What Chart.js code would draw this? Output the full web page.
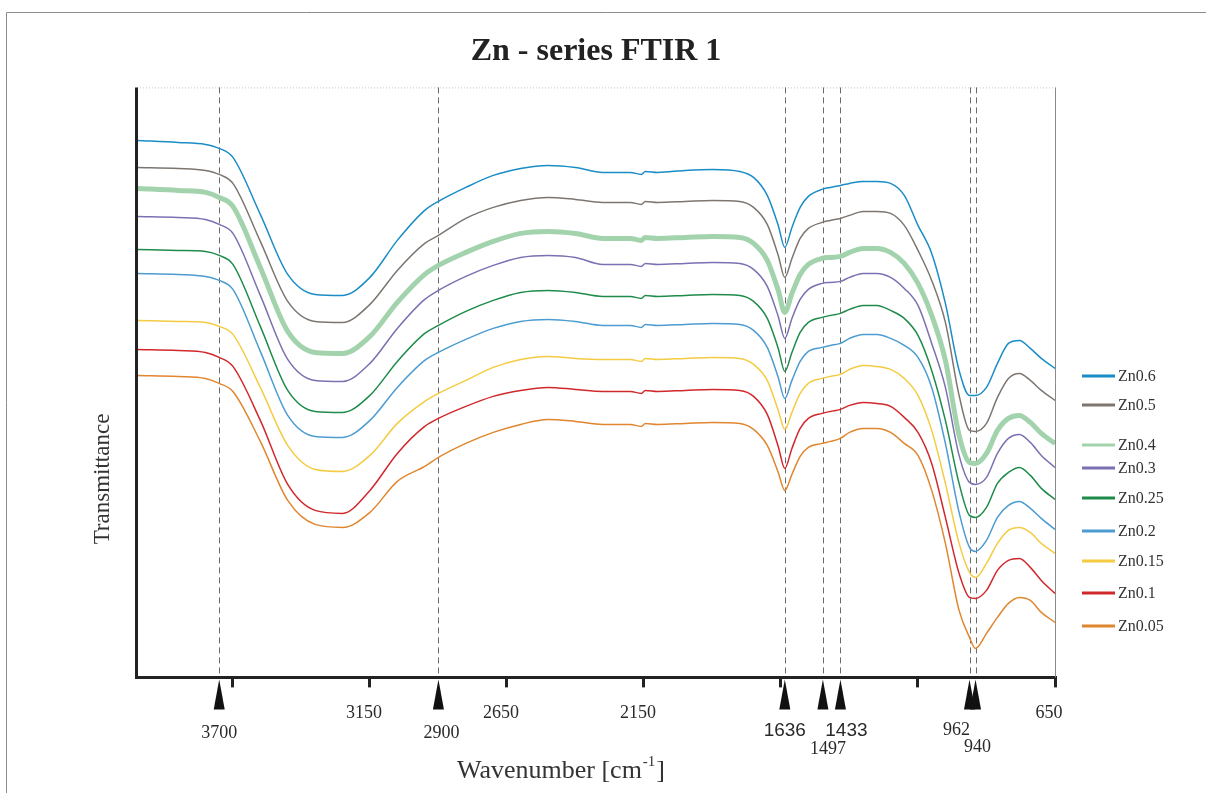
<!DOCTYPE html>
<html>
<head>
<meta charset="utf-8">
<title>Zn - series FTIR 1</title>
<script src="https://cdn.jsdelivr.net/npm/chart.js@4.4.1/dist/chart.umd.min.js"></script>
<style>
  html, body { margin: 0; padding: 0; background: #fff; }
  canvas { display: block; }
</style>
</head>
<body>
<canvas id="graficos" width="1206" height="793"></canvas>
<script>
// wavenumbers in cm-1
const wavenumbers = [
  4000, 3850, 3750, 3700, 3650, 3550, 3450, 3350, 3250, 3150,
  3050, 2950, 2900, 2800, 2700, 2600, 2500, 2400, 2300, 2200,
  2160, 2145, 2100, 2000, 1900, 1800, 1750, 1700, 1660, 1636,
  1610, 1580, 1550, 1500, 1470, 1433, 1400, 1350, 1300, 1250,
  1200, 1150, 1100, 1050, 1000, 962, 940, 900, 860, 820,
  780, 740, 700, 650
];

// transmittance (arbitrary units, curves are stacked)
const zn06 = [
  53.7, 53.5, 53.3, 52.9, 52.0, 46.3, 40.3, 38.3, 38.2, 40.0,
  43.7, 46.7, 47.6, 49.0, 50.2, 50.9, 51.2, 51.0, 50.5, 50.5,
  50.3, 50.6, 50.5, 50.7, 50.8, 50.6, 50.0, 48.2, 45.2, 43.0,
  45.0, 47.0, 48.1, 48.8, 49.0, 49.2, 49.4, 49.6, 49.6, 49.4,
  48.2, 45.2, 42.4, 37.4, 30.7, 28.2, 28.2, 29.0, 31.4, 33.4,
  33.7, 32.9, 31.9, 30.9
];
const zn05 = [
  51.0, 50.9, 50.7, 50.3, 49.4, 43.6, 37.6, 35.6, 35.5, 37.3,
  40.7, 43.4, 44.2, 45.9, 47.0, 47.7, 48.0, 47.8, 47.5, 47.5,
  47.3, 47.6, 47.5, 47.6, 47.7, 47.6, 47.0, 45.3, 42.2, 40.0,
  41.9, 43.9, 44.9, 45.5, 45.7, 45.9, 46.2, 46.6, 46.6, 46.4,
  45.2, 42.7, 39.7, 35.5, 28.2, 24.7, 24.6, 25.4, 28.0, 29.9,
  30.4, 29.7, 28.7, 27.7
];
const zn04 = [
  48.9, 48.7, 48.5, 48.0, 47.1, 41.0, 34.6, 32.5, 32.4, 34.1,
  37.5, 40.3, 41.2, 42.5, 43.6, 44.4, 44.6, 44.4, 43.9, 43.9,
  43.7, 44.0, 43.9, 44.0, 44.1, 44.0, 43.4, 41.7, 38.7, 36.5,
  38.4, 40.3, 41.3, 41.9, 42.0, 42.1, 42.5, 42.9, 42.9, 42.5,
  41.4, 39.4, 36.2, 31.7, 24.2, 21.5, 21.4, 22.4, 24.7, 25.9,
  26.2, 25.5, 24.4, 23.4
];
const zn03 = [
  46.1, 46.0, 45.8, 45.3, 44.4, 38.2, 31.8, 29.7, 29.6, 31.4,
  34.9, 37.8, 38.7, 40.1, 41.2, 42.0, 42.2, 42.0, 41.3, 41.3,
  41.1, 41.4, 41.3, 41.4, 41.5, 41.4, 40.8, 39.1, 36.1, 33.9,
  35.9, 37.8, 38.8, 39.4, 39.5, 39.6, 40.0, 40.4, 40.4, 40.0,
  38.9, 37.2, 33.4, 29.0, 22.2, 19.5, 19.3, 20.0, 22.4, 23.9,
  24.3, 23.5, 22.2, 21.0
];
const zn025 = [
  42.8, 42.7, 42.6, 42.2, 41.3, 35.1, 28.7, 26.6, 26.5, 28.2,
  31.6, 34.4, 35.2, 36.6, 37.7, 38.5, 38.7, 38.5, 38.1, 38.1,
  37.9, 38.2, 38.1, 38.2, 38.3, 38.2, 37.6, 35.9, 32.9, 30.6,
  32.5, 34.5, 35.5, 36.0, 36.2, 36.4, 36.8, 37.2, 37.2, 36.7,
  35.9, 34.2, 30.7, 25.7, 19.4, 16.2, 16.0, 17.0, 19.4, 20.5,
  21.0, 20.2, 18.9, 17.8
];
const zn02 = [
  40.4, 40.3, 40.1, 39.7, 38.8, 32.6, 26.2, 24.1, 24.0, 25.7,
  29.0, 31.7, 32.5, 33.8, 34.9, 35.6, 35.8, 35.6, 35.2, 35.2,
  35.0, 35.3, 35.2, 35.3, 35.4, 35.3, 34.7, 33.0, 30.0, 27.9,
  29.7, 31.6, 32.6, 33.0, 33.2, 33.4, 33.9, 34.3, 34.3, 33.9,
  33.2, 32.0, 29.0, 23.4, 16.5, 13.0, 12.6, 13.7, 16.0, 17.2,
  17.6, 16.9, 15.9, 14.8
];
const zn015 = [
  35.7, 35.6, 35.5, 35.1, 34.3, 29.0, 23.2, 20.8, 20.6, 22.2,
  25.4, 27.6, 28.4, 29.7, 31.0, 31.8, 32.1, 31.9, 31.8, 31.8,
  31.6, 31.9, 31.8, 31.9, 32.0, 31.9, 31.3, 29.7, 26.7, 24.8,
  26.5, 28.4, 29.4, 29.9, 30.1, 30.3, 30.8, 31.2, 31.1, 30.8,
  29.9, 28.2, 24.7, 19.4, 13.4, 10.5, 10.0, 11.4, 13.4, 14.7,
  15.0, 14.5, 13.4, 12.4
];
const zn01 = [
  32.8, 32.7, 32.5, 32.0, 31.1, 25.7, 19.3, 16.7, 16.4, 18.7,
  22.4, 25.1, 25.9, 27.1, 28.1, 28.7, 29.0, 28.8, 28.6, 28.6,
  28.4, 28.7, 28.6, 28.7, 28.8, 28.7, 28.1, 26.3, 23.1, 20.9,
  22.9, 24.9, 25.9, 26.4, 26.6, 26.8, 27.2, 27.5, 27.4, 27.1,
  26.0, 24.5, 21.4, 16.0, 10.4, 8.0, 7.9, 8.7, 10.7, 11.7,
  11.9, 11.0, 9.7, 8.4
];
const zn005 = [
  30.2, 30.1, 29.9, 29.4, 28.6, 23.6, 17.7, 15.3, 15.0, 16.5,
  19.6, 21.1, 22.0, 23.4, 24.5, 25.3, 25.8, 25.6, 25.3, 25.3,
  25.1, 25.4, 25.3, 25.4, 25.5, 25.4, 24.8, 23.2, 20.5, 18.7,
  20.3, 22.1, 23.0, 23.4, 23.6, 23.9, 24.5, 24.9, 24.9, 24.5,
  23.4, 22.2, 18.7, 13.4, 6.7, 4.0, 2.9, 4.4, 6.0, 7.4,
  8.0, 7.7, 6.5, 5.5
];

const seriesLabels = ['Zn0.6', 'Zn0.5', 'Zn0.4', 'Zn0.3', 'Zn0.25', 'Zn0.2', 'Zn0.15', 'Zn0.1', 'Zn0.05'];
const seriesValues = [zn06, zn05, zn04, zn03, zn025, zn02, zn015, zn01, zn005];

const tickValues = [3650, 3150, 2650, 2150, 1650, 1150, 650];
const tickLabels = ['', '3150', '2650', '2150', '', '', '650'];

const peakValues = [3700, 2900, 1636, 1497, 1433, 962, 940];
const peakLabels = ['3700', '2900', '1636', '1497', '1433', '962', '940'];

// styling
const colors = ['#1b8dc6', '#7d7670', '#a2d3ad', '#7b70b2', '#1f8b4a', '#4c9cd2', '#f4cb43', '#d1282c', '#e0862f'];
const widths = [1.5, 1.5, 5, 1.5, 1.5, 1.5, 1.5, 1.5, 1.5];
const legendY = [376, 405, 445, 468, 498, 531, 561, 593, 626];
const peakStyle = [
  { dx: 0, y: 733, sans: false },
  { dx: 3, y: 733, sans: false },
  { dx: 0, y: 731, sans: true },
  { dx: 5, y: 749, sans: false },
  { dx: 6, y: 731, sans: true },
  { dx: -13, y: 730, sans: false },
  { dx: 2, y: 747, sans: false }
];
const SERIF = '"Liberation Serif", "Times New Roman", serif';
const SANS = '"Liberation Sans", Arial, sans-serif';

const decor = {
  id: 'decor',
  beforeDatasetsDraw(chart) {
    const ctx = chart.ctx, a = chart.chartArea, x = chart.scales.x;
    ctx.save();
    // dotted top edge
    ctx.strokeStyle = '#c4c4c4';
    ctx.lineWidth = 1;
    ctx.setLineDash([1, 2]);
    ctx.beginPath();
    ctx.moveTo(a.left, a.top + 0.5);
    ctx.lineTo(a.right, a.top + 0.5);
    ctx.stroke();
    // right edge
    ctx.setLineDash([]);
    ctx.strokeStyle = '#8a8a8a';
    ctx.beginPath();
    ctx.moveTo(a.right + 0.5, a.top);
    ctx.lineTo(a.right + 0.5, a.bottom);
    ctx.stroke();
    // dashed peak markers
    ctx.strokeStyle = '#6a6a6a';
    ctx.setLineDash([6, 4]);
    peakValues.forEach(w => {
      const px = Math.round(x.getPixelForValue(w)) + 0.5;
      ctx.beginPath();
      ctx.moveTo(px, a.top);
      ctx.lineTo(px, a.bottom);
      ctx.stroke();
    });
    ctx.restore();
  },
  afterDraw(chart) {
    const ctx = chart.ctx, a = chart.chartArea, x = chart.scales.x;
    ctx.save();

    // outer frame (top and left)
    ctx.strokeStyle = '#8c8c8c';
    ctx.lineWidth = 1;
    ctx.beginPath();
    ctx.moveTo(6.5, 793);
    ctx.lineTo(6.5, 12.5);
    ctx.lineTo(1206, 12.5);
    ctx.stroke();

    // left axis
    ctx.strokeStyle = '#222';
    ctx.lineWidth = 3;
    ctx.beginPath();
    ctx.moveTo(a.left - 0.5, a.top);
    ctx.lineTo(a.left - 0.5, a.bottom + 1.5);
    ctx.stroke();

    // peak triangles + labels
    ctx.fillStyle = '#111';
    peakValues.forEach(w => {
      const px = x.getPixelForValue(w);
      ctx.beginPath();
      ctx.moveTo(px, a.bottom + 2);
      ctx.lineTo(px + 5.5, a.bottom + 32);
      ctx.lineTo(px - 5.5, a.bottom + 32);
      ctx.closePath();
      ctx.fill();
    });
    ctx.textAlign = 'center';
    ctx.textBaseline = 'middle';
    ctx.fillStyle = '#2a2a2a';
    peakLabels.forEach((t, i) => {
      const s = peakStyle[i];
      ctx.font = s.sans ? '19px ' + SANS : '18px ' + SERIF;
      ctx.fillText(t, x.getPixelForValue(peakValues[i]) + s.dx, s.y);
    });

    // legend
    ctx.textAlign = 'left';
    ctx.font = '16px ' + SERIF;
    chart.data.datasets.forEach((ds, i) => {
      const y = legendY[i];
      ctx.strokeStyle = ds.borderColor;
      ctx.lineWidth = 3;
      ctx.beginPath();
      ctx.moveTo(1082, y);
      ctx.lineTo(1115, y);
      ctx.stroke();
      ctx.fillStyle = '#333';
      ctx.fillText(ds.label, 1118, y + 1);
    });

    // y title
    ctx.save();
    ctx.translate(103, 479);
    ctx.rotate(-Math.PI / 2);
    ctx.textAlign = 'center';
    ctx.font = '23px ' + SERIF;
    ctx.fillStyle = '#333';
    ctx.fillText('Transmittance', 0, 0);
    ctx.restore();

    // x title with superscript
    ctx.textBaseline = 'alphabetic';
    ctx.fillStyle = '#333';
    const big = '26px ' + SERIF, small = '15px ' + SERIF;
    const p1 = 'Wavenumber [cm', p2 = '-1', p3 = ']';
    ctx.font = big;
    const w1 = ctx.measureText(p1).width, w3 = ctx.measureText(p3).width;
    ctx.font = small;
    const w2 = ctx.measureText(p2).width;
    let sx = 560 - (w1 + w2 + w3) / 2;
    ctx.font = big;
    ctx.fillText(p1, sx, 778);
    ctx.font = small;
    ctx.fillText(p2, sx + w1 + 1, 766);
    ctx.font = big;
    ctx.fillText(p3, sx + w1 + w2 + 2, 778);

    ctx.restore();
  }
};

const ctx = document.getElementById('graficos');

new Chart(ctx, {
  type: 'line',
  data: {
    datasets: seriesLabels.map((label, i) => ({
      label: label,
      data: wavenumbers.map((w, j) => ({ x: w, y: seriesValues[i][j] })),
      borderColor: colors[i],
      borderWidth: widths[i],
      pointRadius: 0,
      cubicInterpolationMode: 'monotone',
      fill: false
    }))
  },
  options: {
    responsive: false,
    animation: false,
    devicePixelRatio: 1,
    layout: { padding: { left: 137, right: 151, top: 0, bottom: 54 } },
    plugins: {
      legend: { display: false },
      tooltip: { enabled: false },
      title: {
        display: true,
        text: 'Zn - series FTIR 1',
        color: '#222',
        font: { family: SERIF, size: 32, weight: 'bold' },
        padding: { top: 33, bottom: 16 }
      }
    },
    scales: {
      x: {
        type: 'linear',
        reverse: true,
        min: 650,
        max: 4000,
        afterBuildTicks: axis => { axis.ticks = tickValues.map(v => ({ value: v })); },
        ticks: {
          autoSkip: false,
          maxRotation: 0,
          padding: 15,
          labelOffset: -6,
          color: '#2a2a2a',
          font: { family: SERIF, size: 18 },
          callback: v => {
            const i = tickValues.indexOf(v);
            return i >= 0 ? tickLabels[i] : '';
          }
        },
        grid: { display: true, drawOnChartArea: false, drawTicks: true, tickLength: 10, lineWidth: 3, color: '#222' },
        border: { display: true, width: 3, color: '#222' }
      },
      y: {
        display: false,
        min: 0,
        max: 59
      }
    }
  },
  plugins: [decor]
});
</script>
</body>
</html>
